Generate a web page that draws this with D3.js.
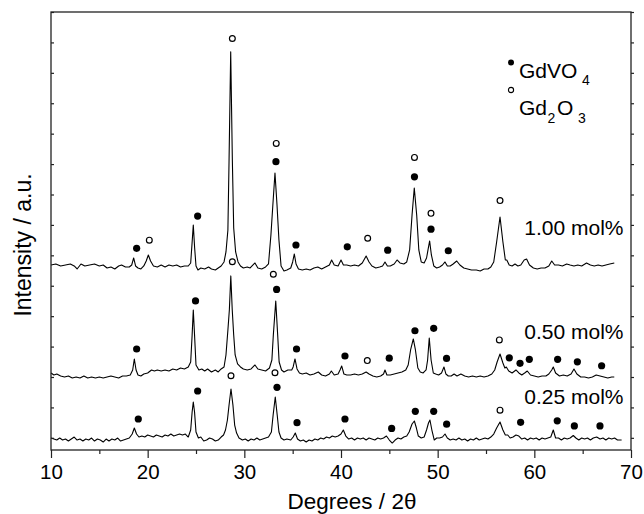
<!DOCTYPE html>
<html>
<meta charset="utf-8">
<title>XRD patterns</title>
<style>
  body { margin: 0; background: #fff; }
  text { font-family: "Liberation Sans", Arial, Helvetica, sans-serif; fill: #000; }
</style>
<body>
<div id="chart"></div>
<script src="https://d3js.org/d3.v7.min.js"></script>
<script>
// 2-theta ticks
var xTicks = [10, 20, 30, 40, 50, 60, 70];
var xMinor = [15, 25, 35, 45, 55, 65];
var yTicks = d3.range(0, 15);

var sampleLabels = ["1.00 mol%", "0.50 mol%", "0.25 mol%"];
// vertical shift of each pattern (a.u.)
var offsets = [5.4, 1.8, -0.2];
var countsPerUnit = 304;

// [2theta, counts]
var pattern100 = [
  [10.0,86],[10.5,96],[11.0,76],[11.5,86],[12.0,96],[12.4,76],[12.7,46],[13.1,96],[13.5,76],[14.0,86],
  [14.5,96],[15.0,76],[15.4,86],[15.8,56],[16.2,66],[16.6,46],[17.0,76],[17.3,86],[17.7,66],[18.1,66],
  [18.35,86],[18.55,156],[18.75,76],[19.0,56],[19.3,46],[19.6,76],[19.85,126],[20.07,186],[20.3,126],[20.6,76],
  [21.0,66],[21.4,86],[21.8,66],[22.2,86],[22.6,76],[23.0,86],[23.4,66],[23.8,76],[24.2,76],[24.45,106],
  [24.58,286],[24.72,486],[24.86,256],[25.0,76],[25.2,36],[25.5,56],[25.9,46],[26.3,66],[26.6,46],[27.0,36],
  [27.3,56],[27.6,76],[27.9,116],[28.1,216],[28.3,436],[28.42,1136],[28.59,2216],[28.76,1136],[28.9,456],[29.1,216],
  [29.35,116],[29.6,76],[29.9,56],[30.3,66],[30.6,56],[30.9,86],[31.1,106],[31.4,56],[31.8,46],[32.2,66],
  [32.5,96],[32.75,386],[32.95,686],[33.17,1006],[33.38,686],[33.58,336],[33.8,76],[34.1,26],[34.4,36],[34.8,56],
  [35.0,116],[35.17,196],[35.35,96],[35.6,46],[36.0,36],[36.4,46],[36.8,36],[37.2,56],[37.6,66],[38.0,46],
  [38.4,66],[38.8,86],[39.03,136],[39.3,86],[39.7,76],[40.0,136],[40.25,86],[40.6,86],[41.0,76],[41.4,86],
  [41.8,76],[42.2,106],[42.6,176],[42.9,116],[43.2,76],[43.6,56],[44.0,66],[44.3,76],[44.55,116],[44.8,76],
  [45.1,76],[45.5,96],[45.8,136],[46.1,106],[46.5,96],[46.8,116],[47.1,236],[47.35,586],[47.58,856],[47.83,586],
  [48.05,236],[48.3,116],[48.6,106],[48.85,156],[49.0,236],[49.17,326],[49.35,186],[49.6,76],[49.9,56],[50.2,66],
  [50.5,86],[50.76,116],[51.0,76],[51.3,76],[51.6,96],[51.97,126],[52.3,86],[52.7,56],[53.1,46],[53.5,36],
  [54.0,36],[54.4,26],[54.8,46],[55.2,46],[55.5,66],[55.8,116],[56.1,316],[56.45,566],[56.75,316],[57.0,136],
  [57.15,136],[57.4,86],[57.7,76],[58.0,96],[58.3,76],[58.6,86],[58.95,136],[59.2,146],[59.5,86],[59.9,56],
  [60.3,46],[60.7,56],[61.1,56],[61.5,76],[61.8,126],[62.1,86],[62.5,86],[62.9,76],[63.35,96],[63.7,86],
  [64.1,76],[64.5,86],[64.9,76],[65.4,106],[65.8,86],[66.2,76],[66.6,86],[67.0,76],[67.4,86],[67.8,96],
  [68.27,106]
];

var pattern050 = [
  [10.0,101],[10.3,81],[10.6,91],[11.0,71],[11.4,61],[11.8,71],[12.2,51],[12.6,61],[13.0,51],[13.4,71],
  [13.8,51],[14.2,61],[14.6,51],[15.0,61],[15.4,51],[15.8,61],[16.2,71],[16.6,61],[17.0,51],[17.4,71],
  [17.8,71],[18.2,81],[18.45,131],[18.62,241],[18.8,131],[19.0,81],[19.3,71],[19.6,91],[20.0,101],[20.4,131],
  [20.7,121],[21.0,131],[21.4,121],[21.8,131],[22.2,121],[22.6,141],[23.0,131],[23.4,151],[23.8,141],[24.2,161],
  [24.45,211],[24.6,481],[24.72,731],[24.85,481],[25.0,181],[25.3,131],[25.6,141],[25.9,121],[26.2,141],[26.6,111],
  [27.0,131],[27.3,111],[27.6,141],[27.9,161],[28.1,281],[28.3,531],[28.45,731],[28.6,1071],[28.75,731],[28.9,481],
  [29.05,281],[29.3,191],[29.6,161],[29.9,141],[30.3,131],[30.7,141],[31.1,181],[31.4,141],[31.8,131],[32.2,121],
  [32.6,151],[32.85,231],[33.0,481],[33.25,821],[33.45,481],[33.6,211],[33.85,131],[34.1,111],[34.5,131],[34.9,131],
  [35.05,161],[35.24,241],[35.45,141],[35.7,101],[36.0,91],[36.4,101],[36.8,81],[37.2,91],[37.65,111],[38.0,81],
  [38.4,71],[38.8,91],[39.0,121],[39.3,81],[39.7,91],[39.9,131],[40.07,171],[40.3,91],[40.6,81],[41.0,81],
  [41.4,91],[41.8,81],[42.2,91],[42.6,111],[42.9,91],[43.3,71],[43.7,61],[44.1,71],[44.4,91],[44.55,131],
  [44.75,81],[45.1,81],[45.5,91],[45.9,101],[46.3,111],[46.7,131],[46.95,181],[47.2,331],[47.48,441],[47.7,331],
  [47.95,151],[48.2,111],[48.5,101],[48.8,131],[48.96,231],[49.13,451],[49.32,231],[49.55,101],[49.8,91],[50.1,81],
  [50.4,101],[50.65,161],[50.85,91],[51.1,71],[51.4,71],[51.7,91],[52.0,71],[52.4,91],[52.8,71],[53.2,61],
  [53.6,71],[54.0,61],[54.4,71],[54.8,61],[55.2,71],[55.6,91],[55.9,131],[56.15,211],[56.45,291],[56.75,201],
  [56.95,151],[57.1,161],[57.35,121],[57.7,101],[58.1,131],[58.4,101],[58.7,81],[59.0,101],[59.27,121],[59.6,81],
  [60.0,71],[60.4,61],[60.8,71],[61.2,71],[61.5,91],[61.8,131],[61.96,161],[62.2,101],[62.6,71],[63.0,81],
  [63.4,71],[63.8,91],[64.1,141],[64.4,91],[64.8,61],[65.2,61],[65.6,51],[66.0,61],[66.4,81],[66.8,71],
  [67.2,61],[67.6,51],[68.0,61],[68.27,61]
];

var pattern025 = [
  [10.0,59],[10.3,49],[10.6,39],[10.9,59],[11.2,39],[11.5,49],[11.8,29],[12.1,49],[12.4,69],[12.7,39],
  [13.0,49],[13.3,29],[13.6,49],[13.9,39],[14.2,59],[14.5,29],[14.8,49],[15.1,39],[15.4,19],[15.7,49],
  [16.0,29],[16.3,49],[16.6,39],[16.9,59],[17.2,29],[17.5,39],[17.8,49],[18.1,59],[18.4,99],[18.62,159],
  [18.85,99],[19.1,69],[19.4,79],[19.7,69],[20.0,89],[20.3,79],[20.6,69],[20.9,89],[21.2,79],[21.5,69],
  [21.8,89],[22.1,79],[22.4,99],[22.7,79],[23.0,89],[23.3,99],[23.6,89],[23.9,99],[24.2,69],[24.45,139],
  [24.6,319],[24.72,419],[24.85,319],[25.0,119],[25.25,59],[25.5,69],[25.8,29],[26.1,39],[26.4,59],[26.7,49],
  [27.0,29],[27.3,39],[27.6,69],[27.85,89],[28.05,139],[28.25,239],[28.42,389],[28.62,549],[28.82,389],[29.0,189],
  [29.2,109],[29.45,59],[29.8,39],[30.1,49],[30.4,29],[30.7,49],[31.0,39],[31.3,59],[31.6,39],[31.9,49],
  [32.2,59],[32.5,69],[32.8,119],[32.98,289],[33.2,469],[33.4,289],[33.58,119],[33.8,59],[34.1,39],[34.4,49],
  [34.8,39],[35.05,69],[35.27,109],[35.5,49],[35.8,29],[36.1,39],[36.4,19],[36.7,39],[37.0,29],[37.3,49],
  [37.6,39],[37.9,59],[38.2,49],[38.5,69],[38.8,59],[39.1,79],[39.4,69],[39.7,79],[40.0,99],[40.24,139],
  [40.5,79],[40.8,49],[41.1,59],[41.4,39],[41.7,59],[42.0,49],[42.3,59],[42.6,39],[42.9,59],[43.2,49],
  [43.5,39],[43.8,59],[44.1,49],[44.4,59],[44.7,79],[45.0,39],[45.3,9],[45.6,39],[45.9,59],[46.2,49],
  [46.5,69],[46.8,79],[47.05,119],[47.35,199],[47.59,229],[47.8,159],[48.0,79],[48.3,59],[48.6,69],[48.85,139],
  [49.05,209],[49.2,239],[49.4,139],[49.65,39],[49.9,59],[50.2,59],[50.5,69],[50.76,99],[51.0,59],[51.3,39],
  [51.6,49],[51.9,39],[52.2,59],[52.5,39],[52.8,49],[53.1,29],[53.4,49],[53.7,39],[54.0,59],[54.3,39],
  [54.6,49],[54.9,59],[55.2,49],[55.5,69],[55.8,99],[56.1,159],[56.45,219],[56.75,139],[57.0,89],[57.25,89],
  [57.5,59],[57.8,69],[58.1,89],[58.4,79],[58.7,49],[59.0,59],[59.3,39],[59.6,59],[59.9,49],[60.2,59],
  [60.5,39],[60.8,59],[61.1,49],[61.4,59],[61.7,69],[61.96,139],[62.2,59],[62.5,59],[62.8,39],[63.1,59],
  [63.4,49],[63.7,59],[64.03,84],[64.3,59],[64.6,39],[64.9,59],[65.2,49],[65.5,59],[65.8,39],[66.1,59],
  [66.45,69],[66.8,49],[67.1,59],[67.4,39],[67.7,59],[68.0,49],[68.3,59],[68.6,39],[69.03,39]
];

// phase marks: [2theta, height (a.u.), phase]  V = GdVO4 (filled), O = Gd2O3 (open)
var marks100 = [
  [18.86,6.23,"V"],[20.17,6.50,"O"],[25.17,7.29,"V"],[28.76,13.13,"O"],[33.3,9.68,"O"],[33.27,9.08,"V"],
  [35.34,6.34,"V"],[40.65,6.28,"V"],[42.76,6.56,"O"],[44.83,6.17,"V"],[47.6,9.22,"O"],[47.6,8.58,"V"],
  [49.31,7.38,"O"],[49.31,6.86,"V"],[51.1,6.15,"V"],[56.45,7.80,"O"]
];
var marks050 = [
  [18.86,2.92,"V"],[24.95,4.50,"V"],[28.76,5.79,"O"],[33.0,5.38,"O"],[33.34,4.88,"V"],[35.4,2.92,"V"],
  [40.41,2.69,"V"],[42.72,2.54,"O"],[44.99,2.62,"V"],[47.65,3.52,"V"],[49.59,3.60,"V"],[50.92,2.61,"V"],
  [56.38,3.22,"O"],[57.41,2.63,"V"],[58.52,2.45,"V"],[59.48,2.58,"V"],[62.41,2.58,"V"],[64.45,2.50,"V"],
  [66.96,2.37,"V"]
];
var marks025 = [
  [19.03,0.62,"V"],[25.17,1.54,"V"],[28.62,2.04,"O"],[33.17,2.14,"O"],[33.38,1.66,"V"],[35.45,0.50,"V"],
  [40.41,0.62,"V"],[45.24,0.31,"V"],[47.69,0.87,"V"],[49.59,0.87,"V"],[50.93,0.45,"V"],[56.45,0.91,"O"],
  [58.58,0.51,"V"],[62.37,0.56,"V"],[64.14,0.39,"V"],[66.79,0.39,"V"]
];

var patterns = [pattern100, pattern050, pattern025];
var marks = [marks100, marks050, marks025];

var W = 644, H = 514;
var svg = d3.select("#chart").append("svg").attr("width", W).attr("height", H);

var x = d3.scaleLinear().domain([10, 70]).range([51, 631]);
var y = d3.scaleLinear().domain([-0.4, 14]).range([450, 12]);

// curves
var line = d3.line();
patterns.forEach(function (p, i) {
  line.x(function (d) { return x(d[0]); })
      .y(function (d) { return y(offsets[i] + d[1] / countsPerUnit); });
  svg.append("path")
    .attr("d", line(p))
    .attr("fill", "none")
    .attr("stroke", "#000")
    .attr("stroke-width", 1.1)
    .attr("stroke-linejoin", "round");
});

// phase marks
marks.forEach(function (m) {
  svg.append("g").selectAll("circle").data(m).enter().append("circle")
    .attr("cx", function (d) { return x(d[0]); })
    .attr("cy", function (d) { return y(d[1]); })
    .attr("r", function (d) { return d[2] == "V" ? 3.6 : 2.9; })
    .attr("fill", function (d) { return d[2] == "V" ? "#000" : "#fff"; })
    .attr("stroke", "#000")
    .attr("stroke-width", function (d) { return d[2] == "V" ? 0 : 1.2; });
});

// axes
var gx = svg.append("g").attr("transform", "translate(0,450)")
  .call(d3.axisBottom(x).tickValues(xTicks).tickSize(8).tickPadding(6).tickFormat(d3.format("d")));
svg.append("g").attr("transform", "translate(0,450)")
  .call(d3.axisBottom(x).tickValues(xMinor).tickSize(4).tickFormat(""));
svg.append("g").attr("transform", "translate(51,0)")
  .call(d3.axisLeft(y).tickValues(yTicks).tickSize(-3).tickFormat(""));
svg.append("g").attr("transform", "translate(631,0)")
  .call(d3.axisRight(y).tickValues(yTicks).tickSize(3).tickFormat(""));

svg.selectAll(".domain").remove();
svg.selectAll(".tick line").attr("stroke", "#222").attr("stroke-width", 1.2);
gx.selectAll("text")
  .style("font-size", "20.5px")
  .style("font-family", "'Liberation Sans', Arial, sans-serif")
  .attr("fill", "#000");

svg.append("rect")
  .attr("x", 51).attr("y", 12).attr("width", 580).attr("height", 438)
  .attr("fill", "none").attr("stroke", "#222").attr("stroke-width", 1.3);

// titles
svg.append("text")
  .attr("x", 352).attr("y", 509)
  .attr("text-anchor", "middle")
  .style("font-size", "22.5px")
  .text("Degrees / 2\u03b8");

svg.append("text")
  .attr("transform", "translate(31,245) rotate(-90)")
  .attr("text-anchor", "middle")
  .style("font-size", "23px")
  .text("Intensity / a.u.");

// sample labels
var labelY = [235, 339, 404];
sampleLabels.forEach(function (s, i) {
  svg.append("text")
    .attr("x", 623.5).attr("y", labelY[i])
    .attr("text-anchor", "end")
    .style("font-size", "21px")
    .text(s);
});

// legend
svg.append("circle").attr("cx", 511).attr("cy", 62.5).attr("r", 3).attr("fill", "#000");
svg.append("circle").attr("cx", 511).attr("cy", 90).attr("r", 2.6)
  .attr("fill", "#fff").attr("stroke", "#000").attr("stroke-width", 1.1);

svg.append("text").attr("x", 519).attr("y", 77.5).style("font-size", "21px").text("GdVO");
svg.append("text").attr("x", 582).attr("y", 85).style("font-size", "14px").text("4");
svg.append("text").attr("x", 519).attr("y", 115).style("font-size", "21px").text("Gd");
svg.append("text").attr("x", 547.5).attr("y", 123).style("font-size", "14px").text("2");
svg.append("text").attr("x", 557).attr("y", 115).style("font-size", "21px").text("O");
svg.append("text").attr("x", 578).attr("y", 123).style("font-size", "14px").text("3");
</script>
</body>
</html>
